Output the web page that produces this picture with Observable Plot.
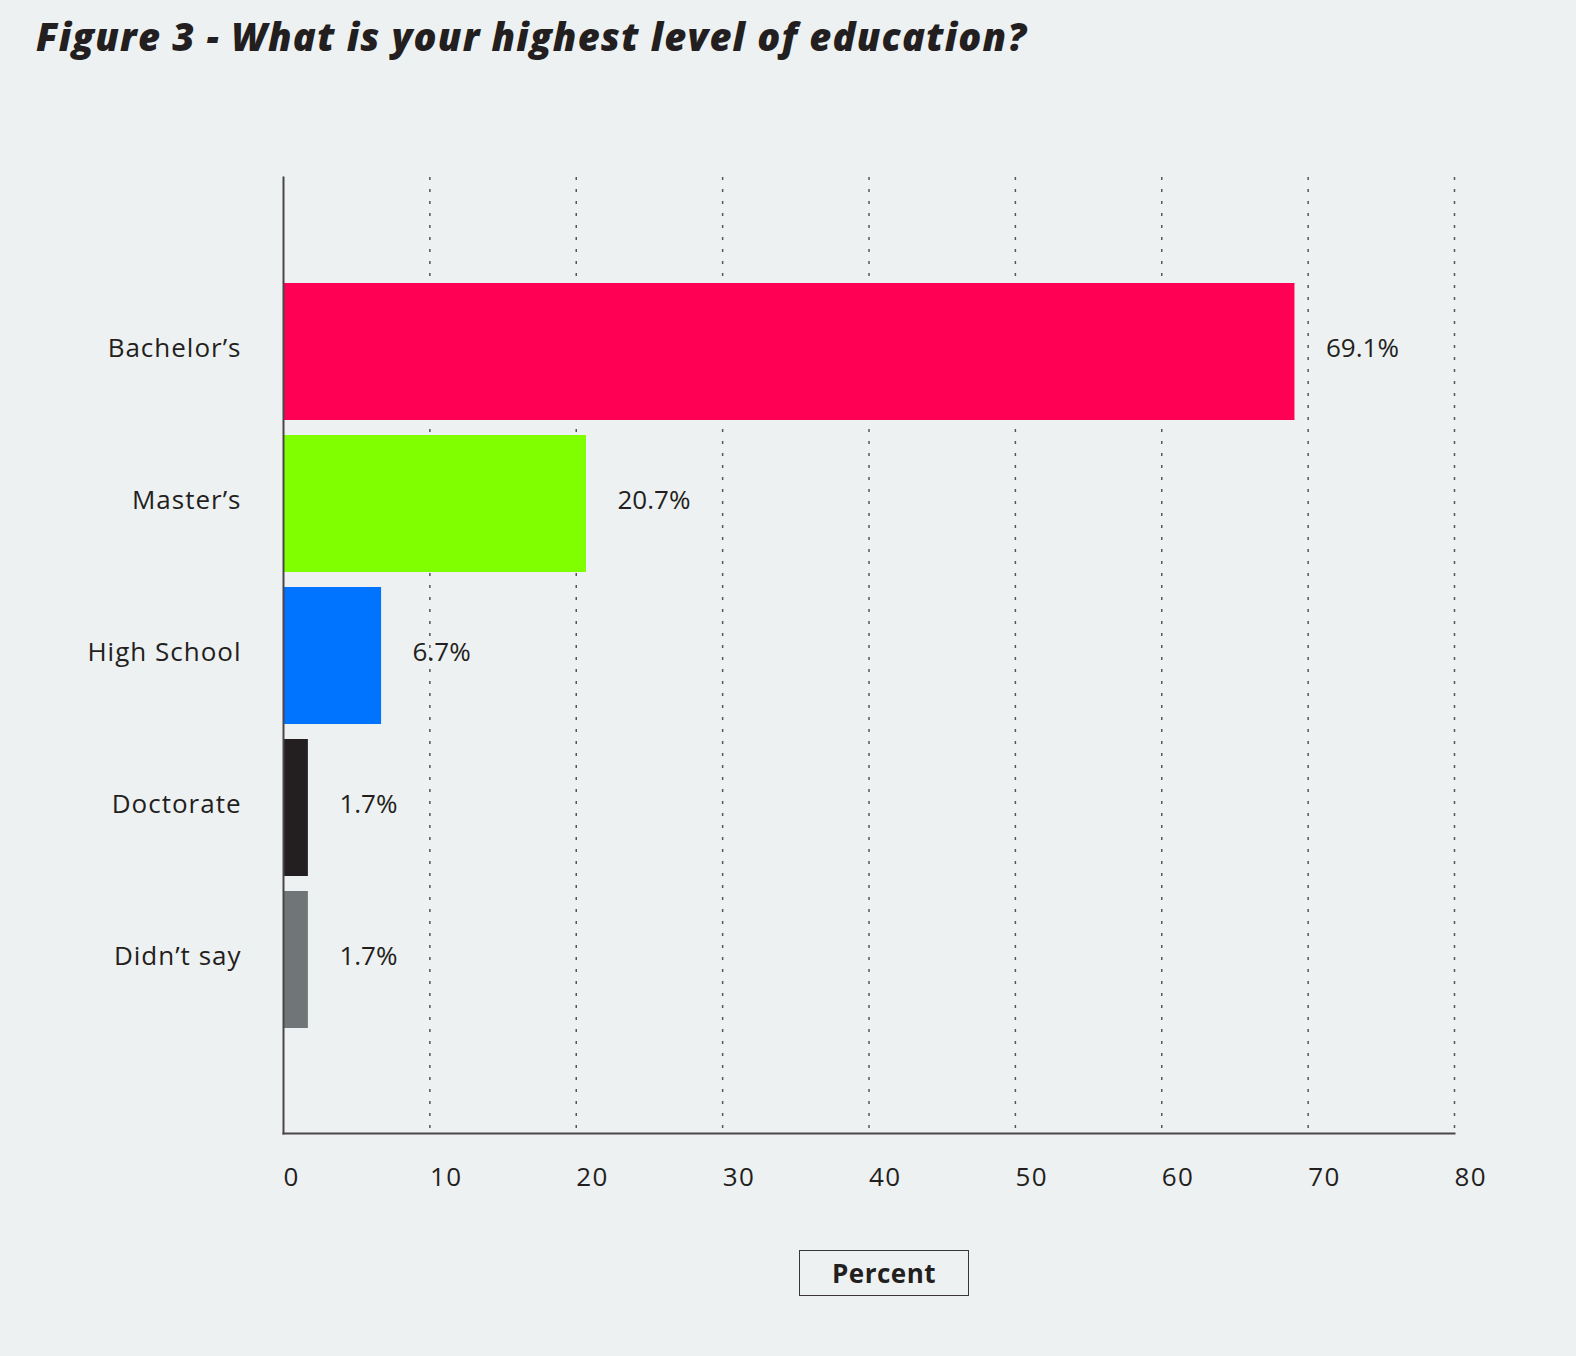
<!DOCTYPE html>
<html>
<head>
<meta charset="utf-8">
<script src="https://cdn.jsdelivr.net/npm/d3@7"></script>
<script src="https://cdn.jsdelivr.net/npm/@observablehq/plot@0.6"></script>
<style>
  html, body { margin: 0; padding: 0; background: #eef1f2; }
  body { width: 1576px; height: 1356px; font-family: "Open Sans", sans-serif; color: #231f20; }
  #title { height: 80px; position: relative; }
  #title h1 { position: absolute; left: 36px; top: 10px; margin: 0; font-size: 38px; font-weight: 800; font-style: italic; color: #231f20; letter-spacing: 1.2px; white-space: nowrap; }
  #xlabel { position: absolute; left: 799px; top: 1250px; width: 168px; height: 44px; border: 1.5px solid #3a3537; box-sizing: content-box;
            display: flex; align-items: center; justify-content: center; font-size: 26px; font-weight: 700; color: #231f20; letter-spacing: 0.5px; }
  .ytick text { letter-spacing: 1px; }
  .xtick text { letter-spacing: 1.5px; }
</style>
</head>
<body>
<div id="title"><h1>Figure 3 - What is your highest level of education?</h1></div>
<div id="chart"></div>
<div id="xlabel">Percent</div>
<script>
const categories = ["Bachelor’s", "Master’s", "High School", "Doctorate", "Didn’t say"];
const values = [69.1, 20.7, 6.7, 1.7, 1.7];
const colors = ["#ff0055", "#7fff00", "#0073ff", "#231f20", "#707577"];
const ticks = [0, 10, 20, 30, 40, 50, 60, 70, 80];
const gridTicks = [10, 20, 30, 40, 50, 60, 70, 80];

const data = categories.map((c, i) => ({ category: c, value: values[i], color: colors[i] }));

const chart = Plot.plot({
  width: 1576,
  height: 1150,
  marginTop: 97,
  marginBottom: 97,
  marginLeft: 283,
  marginRight: 122,
  style: { background: "transparent", fontFamily: "'Open Sans', sans-serif", fontSize: "26px", color: "#231f20" },
  x: { domain: [0, 80], ticks: ticks, label: null },
  y: { domain: categories, paddingInner: 0.1, paddingOuter: 0.68, label: null },
  marks: [
    Plot.ruleX(gridTicks, { stroke: "#555", strokeWidth: 1.5, strokeDasharray: "3,9" }),
    Plot.barX(data, { x: "value", y: "category", fill: "color" }),
    Plot.text(data, { x: "value", y: "category", text: d => d.value.toFixed(1) + "%", textAnchor: "start", dx: 31, dy: -3, fontSize: 26, fill: "#231f20" }),
    Plot.frame({ anchor: "left", stroke: "#4a4548", strokeWidth: 2 }),
    Plot.frame({ anchor: "bottom", stroke: "#4a4548", strokeWidth: 2 }),
    Plot.axisX({ ticks: ticks, tickSize: 0, tickPadding: 34, textAnchor: "start", fontSize: 26, label: null, tickFormat: d => String(d), className: "xtick" }),
    Plot.axisY({ tickSize: 0, tickPadding: 42, dy: -3, fontSize: 26, label: null, className: "ytick" })
  ]
});
document.getElementById("chart").appendChild(chart);
</script>
</body>
</html>
